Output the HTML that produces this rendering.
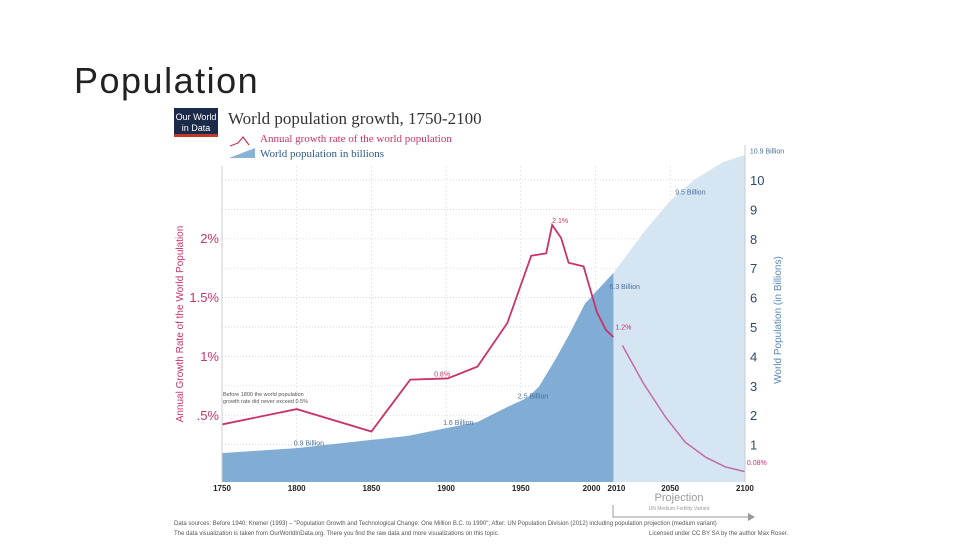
<!DOCTYPE html>
<html><head><meta charset="utf-8">
<style>
html,body{margin:0;padding:0;background:#fff;}
body{width:960px;height:540px;overflow:hidden;font-family:"Liberation Sans",sans-serif;}
svg text{font-family:"Liberation Sans",sans-serif;}
</style></head>
<body>
<svg id="chart" width="960" height="540" viewBox="0 0 960 540">
<text x="74" y="93" font-size="36" fill="#222" letter-spacing="1.5">Population</text>
<g>
<rect x="174" y="108" width="44" height="28" fill="#1c2a4a"/>
<rect x="174" y="134" width="44" height="3" fill="#c0392b"/>
<text x="196" y="120" font-size="9" fill="#fff" text-anchor="middle">Our World</text>
<text x="196" y="131" font-size="9" fill="#fff" text-anchor="middle">in Data</text>
</g>
<text x="228" y="124" font-size="17" fill="#333" style="font-family:'Liberation Serif',serif">World population growth, 1750-2100</text>
<g>
<polyline points="230,146 238,143 243,137 249,145" fill="none" stroke="#c8336b" stroke-width="1.2"/>
<text x="260" y="142" font-size="11" fill="#c8336b" style="font-family:'Liberation Serif',serif">Annual growth rate of the world population</text>
<polygon points="229,158 255,158 255,148" fill="#8ab2d6"/>
<text x="260" y="157" font-size="11" fill="#2c5a8a" style="font-family:'Liberation Serif',serif">World population in billions</text>
</g>
<g id="grid"></g>
<g id="areas"></g>
<g id="lines"></g>
<g id="axes"></g>
<g id="ann" font-size="7"></g>
<text transform="translate(183,324) rotate(-90)" font-size="10" fill="#c8336b" text-anchor="middle">Annual Growth Rate of the World Population</text>
<text transform="translate(781,320) rotate(-90)" font-size="10" fill="#5a86b5" text-anchor="middle">World Population (in Billions)</text>
<g>
<text x="679" y="501" font-size="11" fill="#999" text-anchor="middle">Projection</text>
<text x="679" y="510" font-size="5" fill="#999" text-anchor="middle">UN Medium Fertility Variant</text>
<polyline points="613,505 613,517 748,517" fill="none" stroke="#999" stroke-width="1"/>
<polygon points="748,513 755,517 748,521" fill="#999"/>
</g>
<text x="174" y="525" font-size="6" fill="#555">Data sources:  Before 1940: Kremer (1993) – "Population Growth and Technological Change: One Million B.C. to 1990"; After: UN Population Division (2012) including population projection (medium variant)</text>
<text x="174" y="535" font-size="6" fill="#555">The data visualization is taken from OurWorldInData.org. There you find the raw data and more visualizations on this topic.</text>
<text x="788" y="535" font-size="6" fill="#555" text-anchor="end">Licensed under CC BY SA by the author Max Roser.</text>
</svg>
<script>
const popYears=[1750,1800,1850,1875,1900,1921,1941,1954,1962,1973,1983,1993,2012];
const popValues=[0.71,0.88,1.16,1.3,1.56,1.77,2.28,2.58,2.96,3.88,4.8,5.8,6.84];
const projPopYears=[2012,2032,2050,2066,2085,2100];
const projPopValues=[6.84,8.2,9.3,10.0,10.6,10.85];
const rateYears=[1750,1800,1850,1876,1901,1921,1941,1957,1967,1971,1977,1982,1992,2001,2007,2012];
const rateValues=[0.42,0.55,0.36,0.8,0.81,0.91,1.28,1.85,1.87,2.11,2.0,1.79,1.76,1.37,1.22,1.16];
const projRateYears=[2018,2032,2047,2060,2074,2087,2100];
const projRateValues=[1.09,0.77,0.48,0.27,0.14,0.06,0.02];
const xTicks=[1750,1800,1850,1900,1950,2000,2050,2100];
const leftTicks=[0.5,1,1.5,2];
const leftTickLabels=[".5%","1%","1.5%","2%"];
const rightTicks=[1,2,3,4,5,6,7,8,9,10];
const annotations=[[1800,0.9,"0.9 Billion"],[1900,1.6,"1.6 Billion"],[1950,2.5,"2.5 Billion"],[2000,6.3,"6.3 Billion"],[2050,9.5,"9.5 Billion"],[2100,10.9,"10.9 Billion"]];
const X=y=>222+(y-1750)*1.494;
const YP=b=>474-29.4*b;
const YR=r=>474-118*r;
const NS="http://www.w3.org/2000/svg";
function mk(tag,attrs,parent,txt){const e=document.createElementNS(NS,tag);for(const k in attrs)e.setAttribute(k,attrs[k]);if(txt!==undefined)e.textContent=txt;document.getElementById(parent).appendChild(e);return e;}
rightTicks.forEach(t=>{const g=mk('line',{x1:222,x2:745,y1:YP(t),y2:YP(t),stroke:'#ccc','stroke-dasharray':'1,2','stroke-width':0.7},'grid');

});
xTicks.slice(1,-1).forEach(t=>{const g=mk('line',{x1:X(t),x2:X(t),y1:166,y2:482,stroke:'#ddd','stroke-dasharray':'2,2','stroke-width':0.7},'grid');

});
let d='M'+X(projPopYears[0])+',482';projPopYears.forEach((y,i)=>d+=' L'+X(y)+','+YP(projPopValues[i]));d+=' L'+X(projPopYears[projPopYears.length-1])+',482 Z';
const a2=mk('path',{d:d,fill:'#d5e5f2'},'areas');


d='M'+X(popYears[0])+',482';popYears.forEach((y,i)=>d+=' L'+X(y)+','+YP(popValues[i]));d+=' L'+X(popYears[popYears.length-1])+',482 Z';
const a1=mk('path',{d:d,fill:'#81acd4'},'areas');


const l1=mk('polyline',{points:rateYears.map((y,i)=>X(y)+','+YR(rateValues[i])).join(' '),fill:'none',stroke:'#c8336b','stroke-width':1.8},'lines');


const l2=mk('polyline',{points:projRateYears.map((y,i)=>X(y)+','+YR(projRateValues[i])).join(' '),fill:'none',stroke:'#c46aa8','stroke-width':1.5},'lines');


const ax=mk('line',{x1:222,x2:222,y1:166,y2:482,stroke:'#ccc'},'axes');


const ax2=mk('line',{x1:745,x2:745,y1:145,y2:482,stroke:'#ccc'},'axes');


xTicks.forEach(t=>{const e=mk('text',{x:X(t)-(t===2000?4:0),y:491,'font-size':8,'text-anchor':'middle',fill:'#222','font-weight':'bold'},'axes',String(t));

});
const e2010=mk('text',{x:X(2010)+6,y:491,'font-size':8,'text-anchor':'middle',fill:'#222','font-weight':'bold'},'axes','2010');


leftTicks.forEach((t,i)=>{const e=mk('text',{x:219,y:YR(t)+5,'font-size':13,'text-anchor':'end',fill:'#c8336b'},'axes',leftTickLabels[i]);

});
rightTicks.forEach(t=>{const e=mk('text',{x:750,y:YP(t)+5,'font-size':13,fill:'#2c4a6e'},'axes',String(t));

});
annotations.forEach(a=>{const e=mk('text',{x:X(a[0])+(a[0]===2100?5:(a[0]===2000?14:(a[0]===2050?5:-3))),y:YP(a[1])+(a[0]>=2000?0:-2),fill:'#4a6f9a','font-size':7},'ann',a[2]);

});
[[1971,2.1,"2.1%",0],[1900,0.8,"0.8%",-12],[2012,1.2,"1.2%",2],[2100,0.05,"0.08%",2]].forEach(a=>{const e=mk('text',{x:X(a[0])+a[3],y:YR(a[1])-3,fill:'#c8336b','font-size':7},'ann',a[2]);

});
const n1=mk('text',{x:223,y:396,'font-size':5.5,fill:'#555'},'ann','Before 1800 the world population');


const n2=mk('text',{x:223,y:403,'font-size':5.5,fill:'#555'},'ann','growth rate did never exceed 0.5%');


</script>
</body></html>
